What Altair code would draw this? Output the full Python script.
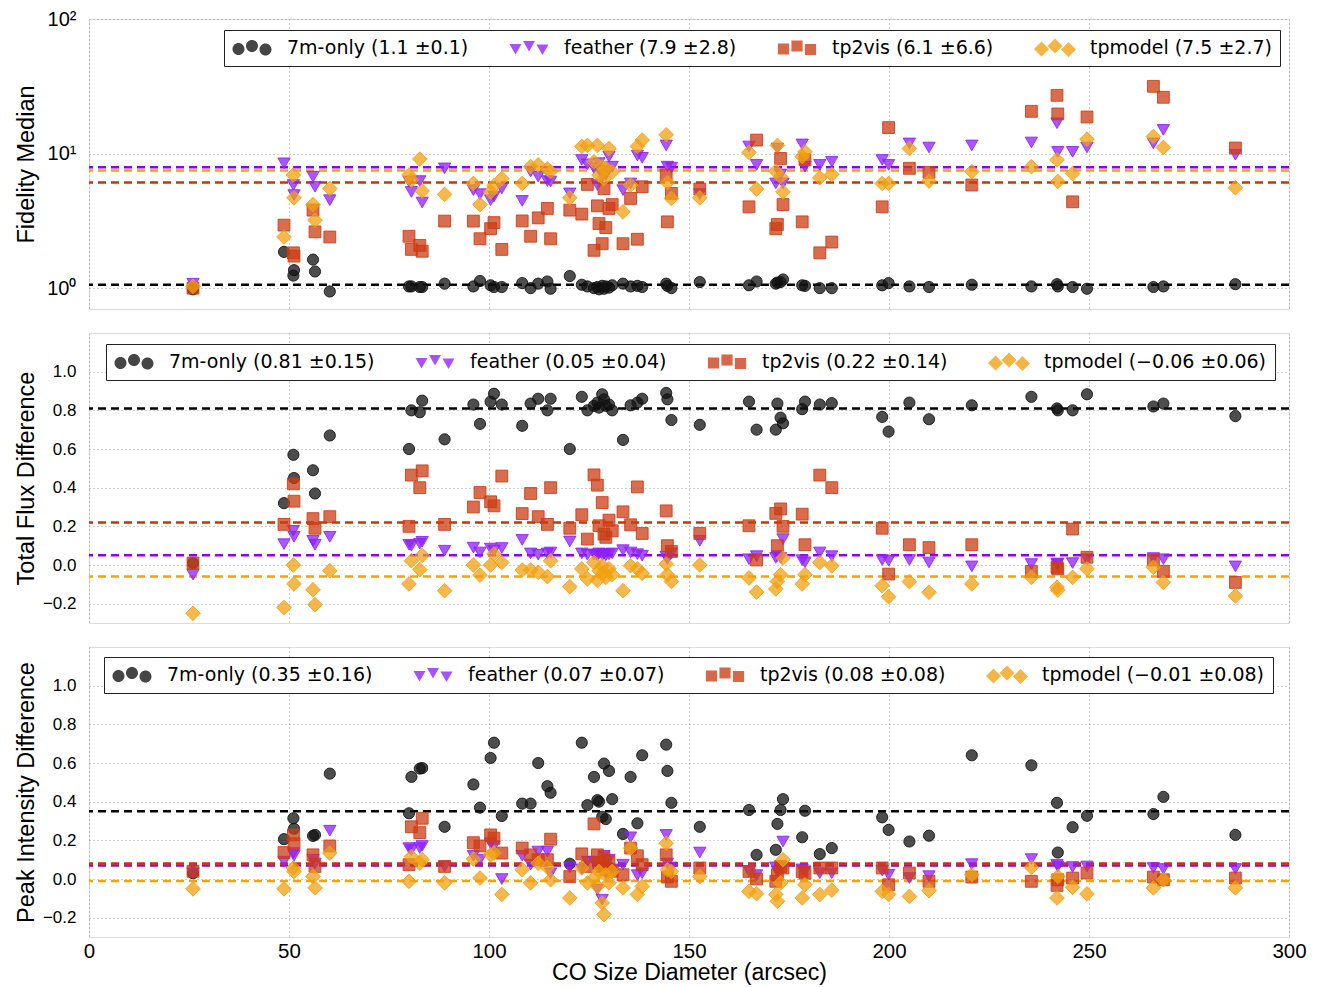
import altair as alt
import pandas as pd

# CO size diameter (arcsec) of each galaxy
SIZE = [26, 48.75, 51.1, 51.25, 56.0, 56.5, 60.2, 80, 80.6, 82.7,
        83.3, 88.9, 96.1, 97.75, 100.4, 101.25, 103.2, 108.3, 110.4, 112.3,
        114.6, 115.4, 120.2, 123.2, 124.6, 126.25, 127.1, 127.5, 128.3, 128.75,
        129.2, 130, 130.8, 133.5, 135.4, 137.1, 138.3, 144.3, 144.6, 145.6,
        152.7, 165, 166.9, 171.7, 172.1, 172.9, 173.5, 178.3, 179, 182.7,
        185.7, 198.3, 199.9, 205.1, 210, 220.7, 235.6, 242, 242.2, 245.9,
        249.5, 266.1, 268.6, 286.6]

# Fidelity median
FID_7M = [0.98, 1.86, 1.24, 1.36, 1.63, 1.33, 0.945, 1.03, 1.03, 1.02,
          1.02, 1.08, 1.03, 1.13, 1.05, 1.02, 1.02, 1.09, 1.0, 1.08,
          1.12, 0.99, 1.23, 1.06, 1.03, 1.0, 1.02, 0.98, 1.04, 0.99,
          1.03, 1.01, 1.05, 1.08, 1.03, 1.04, 1.02, 1.08, 1.04, 1.0,
          1.11, 1.05, 1.12, 1.08, 1.10, 1.11, 1.16, 1.05, 1.04, 1.0,
          1.0, 1.05, 1.09, 1.03, 1.02, 1.06, 1.03, 1.07, 1.03, 1.02,
          0.99, 1.02, 1.03, 1.07]
FID_FEATHER = [1.08, 8.47, 5.84, 4.92, 6.74, 5.67, 4.51, 6.2, 5.19, 6.25,
               4.33, 7.77, 5.35, 5.0, 4.51, 4.8, 5.5, 4.45, 7.35, 6.74,
               6.25, 6.2, 5.06, 8.97, 8.32, 7.8, 5.84, 8.5, 6.9, 7.5,
               6.93, 9.5, 8.0, 5.35, 6.0, 9.67, 9.3, 11.5, 8.0, 7.86,
               5.0, 11.3, 8.24, 6.0, 10.9, 7.0, 6.0, 11.7, 8.0, 8.24,
               8.7, 8.97, 8.24, 11.9, 11.1, 11.5, 12.1, 16.8, 10.3, 10.3,
               11.1, 11.9, 15.0, 9.8]
FID_TP2VIS = [1.0, 2.94, 1.83, 1.73, 3.80, 2.62, 2.40, 2.43, 1.94, 2.08,
              1.88, 3.15, 3.15, 2.33, 2.77, 3.07, 1.94, 3.16, 2.43, 3.33,
              3.91, 2.33, 3.80, 3.55, 5.9, 1.91, 4.09, 3.02, 2.14, 5.5,
              2.82, 3.91, 4.18, 2.14, 4.64, 2.31, 5.67, 6.93, 3.11, 5.06,
              5.45, 4.02, 12.6, 2.77, 2.97, 9.2, 4.18, 3.11, 9.0, 1.83,
              2.2, 4.02, 15.6, 7.77, 7.25, 5.84, 20.6, 27.1, 19.7, 4.38,
              18.7, 31.6, 26.2, 11.0]
FID_TPMODEL = [1.03, 2.40, 6.93, 4.69, 4.18, 3.2, 5.5, 6.93, 6.35, 9.1,
               5.27, 4.97, 6.0, 4.18, 5.19, 5.77, 6.52, 6.0, 8.0, 8.24,
               7.7, 7.35, 4.69, 11.3, 11.5, 8.7, 11.5, 6.93, 8.0, 6.5,
               7.8, 10.9, 7.3, 3.69, 5.84, 11.3, 12.6, 13.8, 6.1, 4.64,
               4.69, 10.2, 5.45, 7.4, 11.5, 6.74, 5.19, 9.5, 10.3, 6.6,
               7.0, 6.0, 6.0, 10.9, 6.25, 7.35, 8.0, 8.97, 6.2, 7.1,
               12.8, 13.4, 11.1, 5.57]

# Total flux difference
FLUX_7M = [0.01, 0.32, 0.57, 0.45, 0.49, 0.37, 0.67, 0.60, 0.80, 0.79,
           0.85, 0.65, 0.83, 0.73, 0.845, 0.886, 0.83, 0.72, 0.835, 0.86,
           0.80, 0.86, 0.60, 0.87, 0.80, 0.823, 0.84, 0.814, 0.883, 0.857,
           0.823, 0.83, 0.80, 0.647, 0.826, 0.84, 0.86, 0.89, 0.857, 0.75,
           0.725, 0.845, 0.70, 0.70, 0.835, 0.762, 0.733, 0.806, 0.845, 0.83,
           0.837, 0.766, 0.69, 0.84, 0.754, 0.826, 0.87, 0.81, 0.80, 0.80,
           0.883, 0.82, 0.835, 0.77]
FLUX_FEATHER = [-0.05, 0.108, 0.177, 0.146, 0.125, 0.105, 0.146, 0.105, 0.10, 0.11,
                0.12, 0.074, 0.09, 0.065, 0.085, 0.075, 0.088, 0.13, 0.06, 0.053,
                0.06, 0.065, 0.122, 0.06, 0.053, 0.055, 0.05, 0.06, 0.052, 0.058,
                0.05, 0.055, 0.06, 0.077, 0.065, 0.056, 0.048, 0.043, 0.03, 0.06,
                0.125, 0.03, 0.046, 0.037, 0.046, 0.037, 0.134, 0.025, 0.014, 0.065,
                0.046, 0.026, 0.022, 0.026, 0.013, -0.007, 0.005, 0.005, 0.008, 0.01,
                0.03, 0.036, 0.03, -0.007]
FLUX_TP2VIS = [0.01, 0.21, 0.42, 0.33, 0.24, 0.19, 0.25, 0.20, 0.465, 0.40,
               0.487, 0.21, 0.30, 0.375, 0.327, 0.306, 0.46, 0.266, 0.37, 0.25,
               0.21, 0.40, 0.19, 0.26, 0.134, 0.466, 0.413, 0.203, 0.323, 0.16,
               0.143, 0.232, 0.177, 0.275, 0.208, 0.404, 0.163, 0.28, 0.10, 0.07,
               0.163, 0.203, 0.026, 0.267, 0.10, 0.29, 0.20, 0.263, 0.105, 0.465,
               0.40, 0.19, -0.047, 0.105, 0.09, 0.105, -0.033, -0.012, -0.02, 0.186,
               0.04, 0.026, -0.033, -0.09]
FLUX_TPMODEL = [-0.25, -0.22, 0.0, -0.098, -0.128, -0.205, -0.03, -0.098, 0.022, -0.024,
                0.05, -0.133, 0.0, -0.052, 0.0, 0.057, 0.013, -0.026, -0.026, -0.038,
                -0.06, 0.022, -0.112, -0.02, -0.072, 0.013, -0.08, -0.03, -0.004, -0.038,
                -0.064, -0.02, -0.05, -0.133, -0.004, -0.02, -0.043, 0.005, -0.05, -0.085,
                0.0, -0.067, -0.14, -0.124, -0.085, -0.05, 0.036, -0.098, -0.05, 0.013,
                -0.004, -0.107, -0.164, -0.086, -0.141, -0.098, -0.064, -0.115, -0.13, -0.064,
                -0.02, -0.012, -0.09, -0.16]

# Peak intensity difference
PEAK_7M = [0.03, 0.206, 0.314, 0.26, 0.223, 0.228, 0.545, 0.34, 0.528, 0.571,
           0.574, 0.27, 0.489, 0.369, 0.626, 0.705, 0.326, 0.39, 0.39, 0.60,
           0.48, 0.446, 0.079, 0.705, 0.382, 0.528, 0.408, 0.40, 0.322, 0.597,
           0.31, 0.559, 0.413, 0.233, 0.528, 0.288, 0.64, 0.695, 0.559, 0.394,
           0.27, 0.357, 0.125, 0.151, 0.285, 0.357, 0.413, 0.216, 0.353, 0.129,
           0.16, 0.319, 0.254, 0.194, 0.224, 0.64, 0.588, 0.394, 0.137, 0.268,
           0.327, 0.336, 0.425, 0.228]
PEAK_FEATHER = [0.03, 0.09, 0.134, 0.12, 0.10, 0.08, 0.25, 0.16, 0.15, 0.16,
                0.171, 0.065, 0.12, 0.10, 0.185, 0.17, 0.0, 0.12, 0.074, 0.142,
                0.142, 0.03, 0.06, 0.05, 0.09, 0.09, -0.055, 0.06, -0.107, 0.12,
                0.03, 0.10, 0.05, 0.074, 0.216, 0.02, 0.03, 0.228, 0.08, 0.06,
                0.137, 0.04, 0.02, 0.06, 0.04, 0.05, 0.194, 0.05, 0.04, 0.03,
                0.03, 0.044, 0.022, 0.005, 0.015, 0.077, 0.103, 0.074, 0.065, 0.062,
                0.065, 0.057, 0.052, 0.052]
PEAK_TP2VIS = [0.04, 0.137, 0.228, 0.182, 0.125, 0.065, 0.171, 0.074, 0.27, 0.24,
               0.314, 0.065, 0.188, 0.171, 0.228, 0.211, 0.134, 0.16, 0.125, 0.10,
               0.10, 0.206, 0.013, 0.13, 0.065, 0.285, 0.125, 0.082, 0.065, 0.11,
               0.05, 0.09, 0.04, 0.022, 0.16, 0.12, 0.074, 0.125, 0.01, -0.012,
               0.057, 0.039, 0.0, -0.012, 0.022, 0.065, 0.057, 0.039, 0.03, 0.057,
               0.057, 0.057, -0.03, 0.031, -0.012, 0.01, -0.012, -0.033, -0.004, 0.005,
               0.031, 0.01, -0.004, 0.005]
PEAK_TPMODEL = [-0.051, -0.051, 0.057, 0.039, 0.013, -0.046, 0.134, -0.012, 0.116, 0.082,
                0.1, -0.02, 0.103, 0.005, 0.125, 0.134, -0.08, 0.048, -0.02, 0.082,
                0.06, -0.004, -0.098, 0.057, -0.02, 0.005, -0.038, 0.039, -0.124, -0.184,
                0.022, -0.02, 0.039, -0.046, 0.16, -0.08, -0.038, 0.185, 0.048, 0.039,
                0.013, -0.064, -0.076, -0.08, -0.115, -0.02, 0.1, -0.098, -0.03, -0.08,
                -0.058, -0.064, -0.08, -0.09, -0.06, 0.022, 0.06, -0.098, 0.013, -0.043,
                -0.077, -0.046, -0.004, -0.046]

M = "\u2212"
FID_LABELS = ["7m-only (1.1 \u00b10.1)", "feather (7.9 \u00b12.8)",
              "tp2vis (6.1 \u00b16.6)", "tpmodel (7.5 \u00b12.7)"]
FLUX_LABELS = ["7m-only (0.81 \u00b10.15)", "feather (0.05 \u00b10.04)",
               "tp2vis (0.22 \u00b10.14)", "tpmodel (" + M + "0.06 \u00b10.06)"]
PEAK_LABELS = ["7m-only (0.35 \u00b10.16)", "feather (0.07 \u00b10.07)",
               "tp2vis (0.08 \u00b10.08)", "tpmodel (" + M + "0.01 \u00b10.08)"]
FID_MEANS = [1.06, 7.9, 6.1, 7.5]
FLUX_MEANS = [0.81, 0.05, 0.22, -0.06]
PEAK_MEANS = [0.35, 0.07, 0.08, -0.01]

COLORS = ["#111111", "#8f1fff", "#cc3c14", "#f0a010"]
LINE_COLORS = ["#000000", "#8b00ff", "#cc3300", "#f5a400"]
SHAPES = ["circle", "triangle-down", "square", "diamond"]
MARK_SIZES = [125, 150, 140, 215]

FONT = "DejaVu Sans"
W, H = 1200, 290


def glyph(kind, cx, cy):
    if kind == "circle":
        r = 0.6
        return (f"M{cx - r:.2f},{cy:.2f}A{r},{r} 0 1,0 {cx + r:.2f},{cy:.2f}"
                f"A{r},{r} 0 1,0 {cx - r:.2f},{cy:.2f}Z")
    if kind == "triangle-down":
        h = 0.6
        return (f"M{cx - h:.2f},{cy - 0.5:.2f}L{cx + h:.2f},{cy - 0.5:.2f}"
                f"L{cx:.2f},{cy + 0.55:.2f}Z")
    if kind == "square":
        h = 0.56
        return (f"M{cx - h:.2f},{cy - h:.2f}L{cx + h:.2f},{cy - h:.2f}"
                f"L{cx + h:.2f},{cy + h:.2f}L{cx - h:.2f},{cy + h:.2f}Z")
    h = 0.75
    return (f"M{cx:.2f},{cy - h:.2f}L{cx + h:.2f},{cy:.2f}"
            f"L{cx:.2f},{cy + h:.2f}L{cx - h:.2f},{cy:.2f}Z")


def triple(kind):
    xs = [-0.35, 1.0, 2.35]
    ys = [0.1, -0.2, 0.15]
    return "".join(glyph(kind, cx, cy) for cx, cy in zip(xs, ys))


LEGEND_PATHS = [triple(k) for k in SHAPES]


def panel(series, labels, means, yscale, yaxis, xaxis, lx, ly):
    xenc = alt.X("size:Q", scale=alt.Scale(domain=[0, 300], nice=False, zero=False), axis=xaxis)
    yenc = alt.Y("value:Q", scale=yscale, axis=yaxis)

    mdf = pd.DataFrame({"value": means, "label": labels, "lc": LINE_COLORS})
    layers = [alt.Chart(mdf).mark_rule(strokeDash=[8, 5], strokeWidth=2.5).encode(
        y=yenc, stroke=alt.Stroke("lc:N", scale=None, legend=None))]

    frames = []
    for i, (lab, vals) in enumerate(zip(labels, series)):
        d = pd.DataFrame({"size": SIZE, "value": vals, "label": lab})
        frames.append(d)
        layers.append(alt.Chart(d).mark_point(
            filled=True, shape=SHAPES[i], size=MARK_SIZES[i], color=COLORS[i],
            stroke=COLORS[i], fillOpacity=0.75, strokeOpacity=0.85, strokeWidth=1
        ).encode(x=xenc, y=yenc))
    df = pd.concat(frames, ignore_index=True)

    leg = dict(orient="none", legendX=lx, legendY=ly, direction="horizontal", columns=4,
               title=None, labelFont=FONT, labelFontSize=19, labelColor="black",
               symbolSize=400, symbolStrokeWidth=0, symbolOpacity=0.78,
               labelOffset=35, columnPadding=40, padding=8, strokeColor="#222222",
               fillColor="white", labelLimit=600, cornerRadius=0)
    layers.append(alt.Chart(df).transform_filter("false").mark_point(
        filled=True, size=400, opacity=0.78).encode(
        x=xenc, y=yenc,
        color=alt.Color("label:N", scale=alt.Scale(domain=labels, range=COLORS),
                        legend=alt.Legend(**leg)),
        shape=alt.Shape("label:N", scale=alt.Scale(domain=labels, range=LEGEND_PATHS),
                        legend=alt.Legend(**leg)),
    ))
    return alt.layer(*layers).resolve_scale(
        color="independent", shape="independent", stroke="independent"
    ).properties(width=W, height=H)


grid = dict(grid=True, gridColor="#a0a0a0", gridDash=[1, 3], gridWidth=1,
            domain=False, ticks=False, titleFontWeight="normal")
x_top = alt.Axis(values=[0, 50, 100, 150, 200, 250, 300], labels=False, title=None, **grid)
x_bottom = alt.Axis(values=[0, 50, 100, 150, 200, 250, 300], labelFontSize=20.5,
                    labelPadding=4, labelFlush=False, title="CO Size Diameter (arcsec)",
                    titleFontSize=23, titlePadding=0, **grid)

lin_vals = [-0.2, 0.0, 0.2, 0.4, 0.6, 0.8, 1.0]
fid_axis = alt.Axis(values=[1, 10, 100], labelFontSize=20, labelPadding=13, labelFlush=False,
                    labelExpr="datum.value < 5 ? '10\u2070' : (datum.value < 50 ? '10\u00b9' : '10\u00b2')",
                    title="Fidelity Median", titleFontSize=23.5, titlePadding=8, **grid)
flux_axis = alt.Axis(values=lin_vals, format=".1f", labelFontSize=17, labelPadding=13,
                     labelFlush=False, title="Total Flux Difference", titleFontSize=23.5,
                     titlePadding=4, **grid)
peak_axis = alt.Axis(values=lin_vals, format=".1f", labelFontSize=17, labelPadding=13,
                     labelFlush=False, title="Peak Intensity Difference", titleFontSize=23.5,
                     titlePadding=4, **grid)

p1 = panel([FID_7M, FID_FEATHER, FID_TP2VIS, FID_TPMODEL], FID_LABELS, FID_MEANS,
           alt.Scale(type="log", domain=[0.7, 100], nice=False), fid_axis, x_top, 135, 11)
p2 = panel([FLUX_7M, FLUX_FEATHER, FLUX_TP2VIS, FLUX_TPMODEL], FLUX_LABELS, FLUX_MEANS,
           alt.Scale(domain=[-0.3, 1.2], nice=False, zero=False), flux_axis, x_top, 17, 11)
p3 = panel([PEAK_7M, PEAK_FEATHER, PEAK_TP2VIS, PEAK_TPMODEL], PEAK_LABELS, PEAK_MEANS,
           alt.Scale(domain=[-0.3, 1.2], nice=False, zero=False), peak_axis, x_bottom, 15, 10)

chart = alt.vconcat(p1, p2, p3, spacing=24, bounds="flush").resolve_scale(
    y="independent", color="independent", shape="independent", stroke="independent"
).properties(
    padding={"left": 5, "top": 0, "right": 5, "bottom": 0}
).configure_view(stroke="#555555", strokeWidth=1.5).configure_axis(
    labelFont=FONT, titleFont=FONT, labelColor="black", titleColor="black",
    titleFontWeight="normal"
).configure(background="white")

chart.save("out.html", embed_options={"renderer": "svg", "actions": False})
